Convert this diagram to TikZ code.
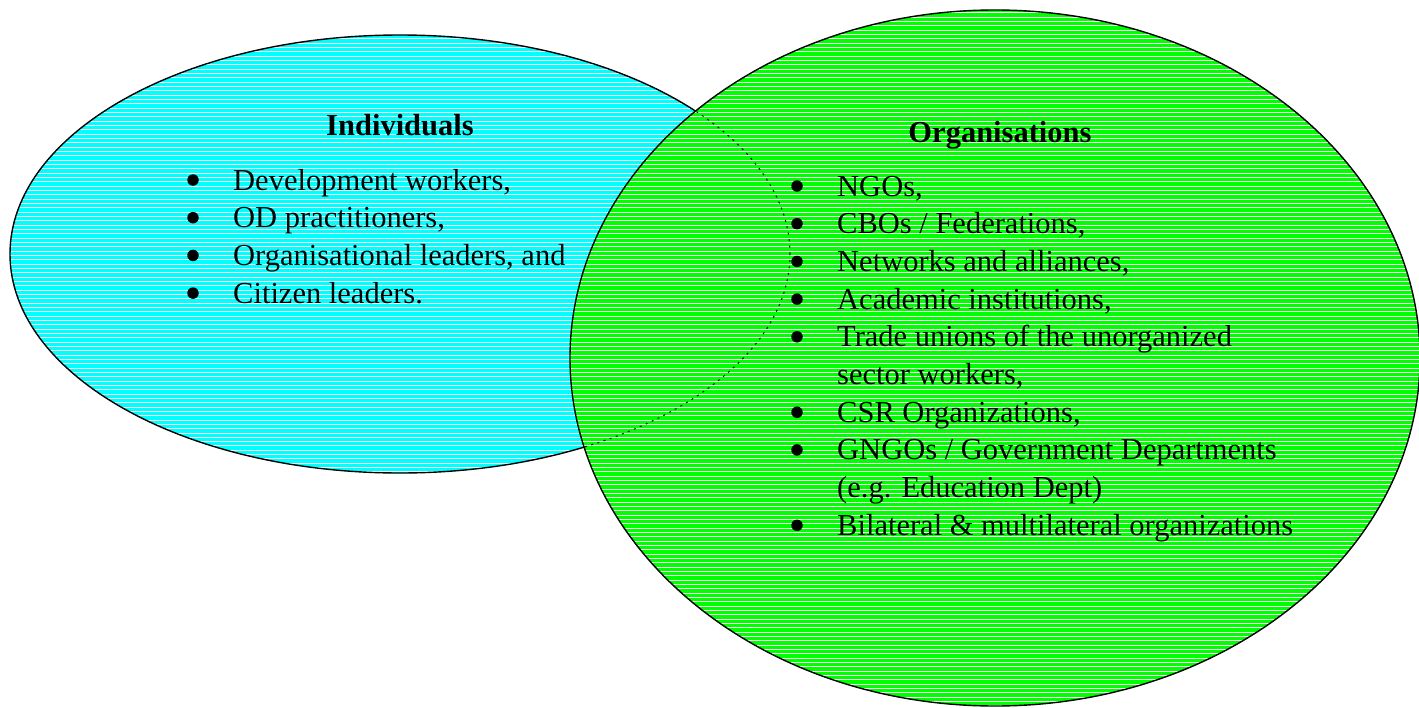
\documentclass[tikz,border=0pt]{standalone}
\usepackage{fontspec}
\setmainfont{Liberation Serif}
\definecolor{aqua}{RGB}{0,255,255}
\definecolor{lime}{RGB}{0,255,0}
% white horizontal rules, one pixel high, laid on whole pixel rows
\newcommand{\hrules}{%
  \foreach \k in {0,...,163} {%
    \pgfmathsetmacro\ry{floor(\k*4.33)+0.5}%
    \draw[hatch] (0,\ry) -- (1419,\ry);%
  }}
\begin{document}
\begin{tikzpicture}[x=1pt,y=-1pt,
  hatch/.style={white, line width=1pt},
  outline/.style={black, line width=1.4pt},
  hidden/.style={black, line width=1pt, dash pattern=on 2pt off 4.5pt},
  title/.style={anchor=base, inner sep=0pt, font=\fontsize{30.5}{37.7}\selectfont\bfseries},
  item/.style={anchor=base west, inner sep=0pt, font=\fontsize{30.5}{37.7}\selectfont},
  bullet/.style={circle, fill=black, inner sep=0pt, minimum size=11.5pt}]
\useasboundingbox (0,0) rectangle (1419,707);

% ---- Individuals: aqua ellipse with white horizontal rules
\fill[aqua] (400,254) ellipse [x radius=390pt, y radius=219pt];
\begin{scope}
  \clip (400,254) ellipse [x radius=390pt, y radius=219pt];
  \hrules
\end{scope}
\draw[outline] (400,254) ellipse [x radius=390pt, y radius=219pt];

% ---- Organisations: lime ellipse with white horizontal rules
\fill[lime] (995,358) ellipse [x radius=425pt, y radius=348pt];
\begin{scope}
  \clip (995,358) ellipse [x radius=425pt, y radius=348pt];
  \hrules
  % hidden part of the Individuals outline
  \draw[hidden] (400,254) ellipse [x radius=390pt, y radius=219pt];
\end{scope}
\draw[outline] (995,358) ellipse [x radius=425pt, y radius=348pt];

% ---- Individuals list
\node[title] (indtitle) at (400,135) {Individuals};
\foreach \n/\yy/\t in {1/190/{Development workers,},
                        2/227.7/{OD practitioners,},
                        3/265.4/{Organisational leaders, and},
                        4/303.1/{Citizen leaders.}} {
  \node[bullet] (indb\n) at (193,\yy-10) {};
  \node[item] (ind\n) at (233,\yy) {\t};
}

% ---- Organisations list
\node[title] (orgtitle) at (1000,142) {Organisations};
\foreach \n/\yy/\t in {1/196/{NGOs,},
                        2/233.7/{CBOs / Federations,},
                        3/271.4/{Networks and alliances,},
                        4/309.1/{Academic institutions,},
                        5/346.8/{Trade unions of the unorganized},
                        7/422.2/{CSR Organizations,},
                        8/459.9/{GNGOs / Government Departments},
                        10/535.3/{Bilateral \& multilateral organizations}} {
  \node[bullet] (orgb\n) at (797,\yy-10) {};
  \node[item] (org\n) at (837,\yy) {\t};
}
\node[item] (org6) at (837,384.5) {sector workers,};
\node[item] (org9) at (837,497.6) {(e.g. Education Dept)};
\end{tikzpicture}
\end{document}
